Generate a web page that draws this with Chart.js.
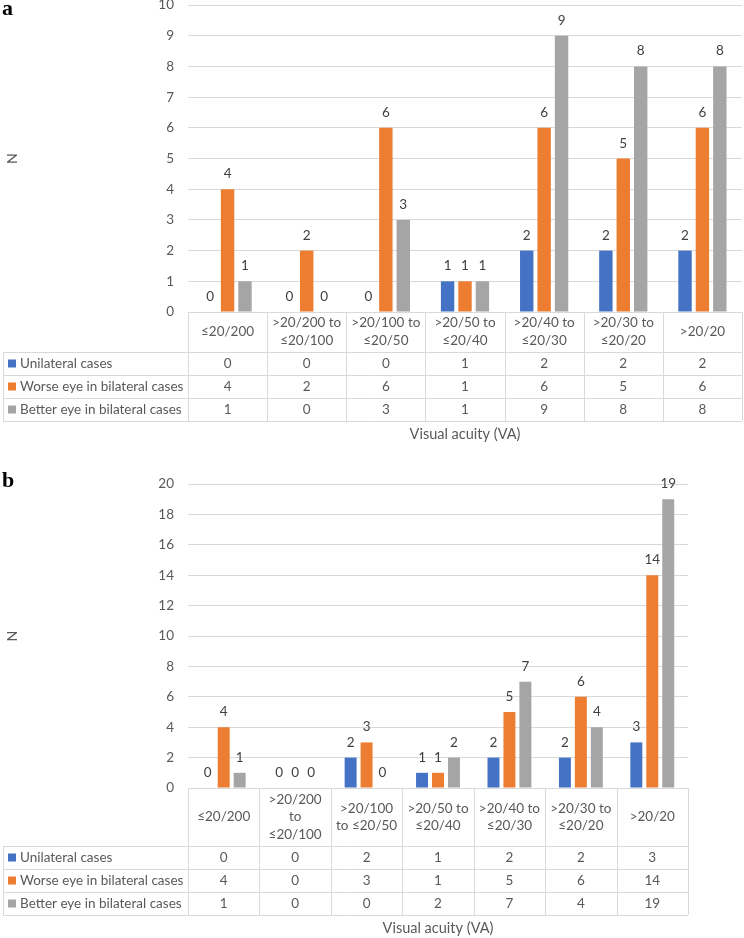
<!DOCTYPE html>
<html>
<head>
<meta charset="utf-8">
<script src="https://cdn.jsdelivr.net/npm/chart.js@4.4.0/dist/chart.umd.min.js"></script>
<style>
  html, body { margin: 0; padding: 0; background: #fff; }
  body { width: 744px; height: 938px; position: relative; overflow: hidden; }
  .panel { position: absolute; left: 0; width: 744px; }
  .tag { position: absolute; left: 2px; font: bold 22px "Liberation Serif", serif; color: #000; }
</style>
</head>
<body>
<div class="panel" style="top:-17px;height:462px"><canvas id="chartA"></canvas></div>
<div class="panel" style="top:462px;height:476px"><canvas id="chartB"></canvas></div>
<div class="tag" style="top:-5px">a</div>
<div class="tag" style="top:467px">b</div>

<script>
// series shared by both panels
const seriesNames = ["Unilateral cases", "Worse eye in bilateral cases", "Better eye in bilateral cases"];
const seriesColors = ["#4472C4", "#ED7D31", "#A5A5A5"];

// panel a
const categoriesA = ["≤20/200", [">20/200 to", "≤20/100"], [">20/100 to", "≤20/50"], [">20/50 to", "≤20/40"], [">20/40 to", "≤20/30"], [">20/30 to", "≤20/20"], ">20/20"];
const unilateralA = [0, 0, 0, 1, 2, 2, 2];
const worseA = [4, 2, 6, 1, 6, 5, 6];
const betterA = [1, 0, 3, 1, 9, 8, 8];
const yMaxA = 10, yStepA = 1;

// panel b
const categoriesB = ["≤20/200", [">20/200", "to", "≤20/100"], [">20/100", "to ≤20/50"], [">20/50 to", "≤20/40"], [">20/40 to", "≤20/30"], [">20/30 to", "≤20/20"], ">20/20"];
const unilateralB = [0, 0, 2, 1, 2, 2, 3];
const worseB = [4, 0, 3, 1, 5, 6, 14];
const betterB = [1, 0, 0, 2, 7, 4, 19];
const yMaxB = 20, yStepB = 2;

const TEXT = "#595959";
const GRID = "#D9D9D9";
const FONT = "Lato, 'Open Sans', sans-serif";
const FS = 13.5;

// numbers above bars
const valueLabels = {
  id: "valueLabels",
  afterDatasetsDraw(chart) {
    const ctx = chart.ctx;
    ctx.save();
    ctx.font = FS + "px " + FONT;
    ctx.fillStyle = "#404040";
    ctx.textAlign = "center";
    ctx.textBaseline = "alphabetic";
    chart.data.datasets.forEach((ds, i) => {
      chart.getDatasetMeta(i).data.forEach((bar, j) => {
        ctx.fillText(String(ds.data[j]), bar.x, bar.y - 11);
      });
    });
    ctx.restore();
  }
};

// excel style data table under the plot
const dataTable = {
  id: "dataTable",
  afterDraw(chart, args, opts) {
    const { ctx, chartArea: ca } = chart;
    const x = chart.scales.x;
    const n = chart.data.labels.length;
    const catW = (ca.right - ca.left) / n;
    const top = ca.bottom;
    const headBottom = top + opts.headerHeight;
    const rowH = opts.rowHeight;
    const nRows = chart.data.datasets.length;
    const bottom = headBottom + rowH * nRows;
    const left = opts.tableLeft;

    ctx.save();
    ctx.strokeStyle = GRID;
    ctx.lineWidth = 1;
    ctx.beginPath();
    ctx.moveTo(ca.left, Math.round(top) + 0.5);
    ctx.lineTo(ca.right, Math.round(top) + 0.5);
    for (let r = 0; r <= nRows; r++) {
      const y = Math.round(headBottom + r * rowH) + 0.5;
      ctx.moveTo(left, y);
      ctx.lineTo(ca.right, y);
    }
    ctx.moveTo(left + 0.5, headBottom);
    ctx.lineTo(left + 0.5, bottom);
    for (let i = 0; i <= n; i++) {
      const c = i < n ? x.getPixelForValue(i) - catW / 2 : x.getPixelForValue(n - 1) + catW / 2;
      const xx = Math.round(c) + 0.5;
      ctx.moveTo(xx, top);
      ctx.lineTo(xx, bottom);
    }
    ctx.stroke();

    ctx.font = FS + "px " + FONT;
    ctx.fillStyle = TEXT;
    ctx.textAlign = "center";
    ctx.textBaseline = "middle";
    const midHead = (top + headBottom) / 2;
    chart.data.labels.forEach((lab, i) => {
      const lines = Array.isArray(lab) ? lab : [lab];
      const cx = x.getPixelForValue(i);
      lines.forEach((ln, k) => {
        ctx.fillText(ln, cx, midHead + (k - (lines.length - 1) / 2) * opts.lineHeight);
      });
    });

    chart.data.datasets.forEach((ds, r) => {
      const yc = headBottom + r * rowH + rowH / 2;
      ctx.fillStyle = ds.backgroundColor;
      ctx.fillRect(left + 5, yc - 4, 8, 8);
      ctx.fillStyle = TEXT;
      ctx.textAlign = "left";
      ctx.fillText(ds.label, left + 17, yc);
      ctx.textAlign = "center";
      ds.data.forEach((v, i) => ctx.fillText(String(v), x.getPixelForValue(i), yc));
    });

    ctx.font = "14.5px " + FONT;
    ctx.fillText(opts.title, (ca.left + ca.right) / 2, bottom + 13);
    ctx.restore();
  }
};

function makeChart(id, labels, series, yMax, yStep, cfg) {
  return new Chart(document.getElementById(id), {
    type: "bar",
    data: {
      labels: labels,
      datasets: series.map((d, i) => ({
        label: seriesNames[i],
        data: d,
        backgroundColor: seriesColors[i],
        categoryPercentage: cfg.catPct,
        barPercentage: cfg.barPct
      }))
    },
    options: {
      responsive: true,
      maintainAspectRatio: false,
      animation: false,
      layout: { padding: { top: cfg.padTop, right: cfg.padRight, bottom: cfg.padBottom, left: 0 } },
      plugins: {
        legend: { display: false },
        tooltip: { enabled: false },
        dataTable: { headerHeight: cfg.headerHeight, rowHeight: 23, lineHeight: cfg.lineHeight, tableLeft: 3, title: "Visual acuity (VA)" }
      },
      scales: {
        x: { display: false },
        y: {
          min: 0,
          max: yMax,
          ticks: { stepSize: yStep, padding: 14, color: TEXT, font: { family: FONT, size: FS } },
          grid: { color: GRID, drawTicks: false },
          border: { display: false },
          title: { display: true, text: "N", color: TEXT, font: { family: FONT, size: 14 }, padding: { top: 4, bottom: 0 } },
          afterFit(s) { s.width = 188; }
        }
      }
    },
    plugins: [valueLabels, dataTable]
  });
}

makeChart("chartA", categoriesA, [unilateralA, worseA, betterA], yMaxA, yStepA,
  { catPct: 0.66, barPct: 0.77, padTop: 10, padRight: 2, padBottom: 133, headerHeight: 40, lineHeight: 18 });
makeChart("chartB", categoriesB, [unilateralB, worseB, betterB], yMaxB, yStepB,
  { catPct: 0.67, barPct: 0.75, padTop: 14, padRight: 56, padBottom: 150, headerHeight: 58, lineHeight: 17.5 });
</script>
</body>
</html>
